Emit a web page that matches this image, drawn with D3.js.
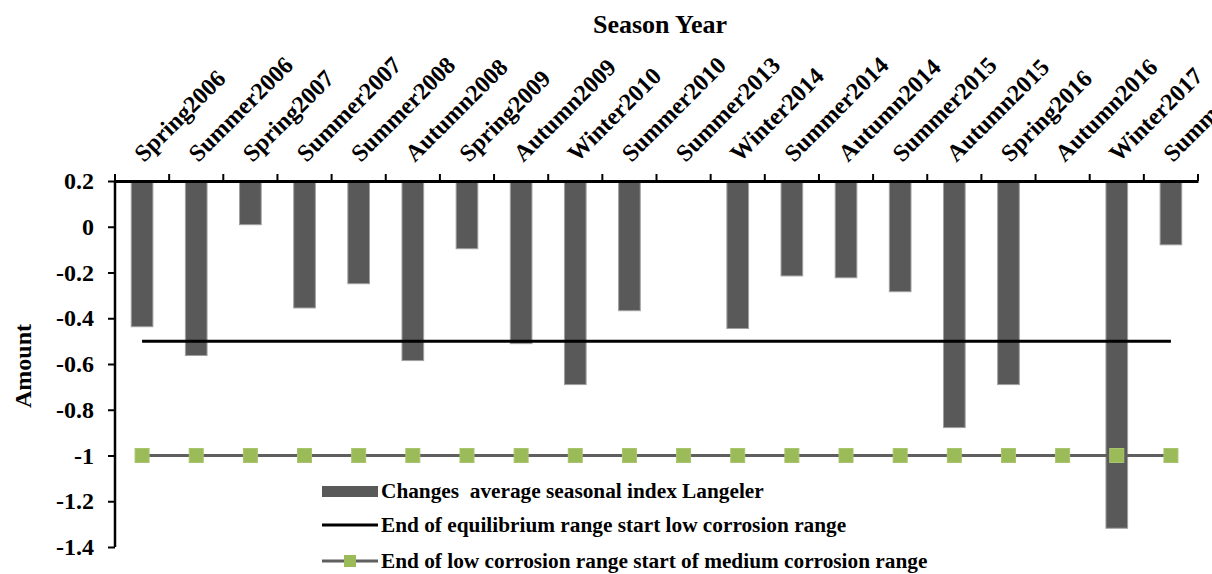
<!DOCTYPE html>
<html>
<head>
<meta charset="utf-8">
<script src="https://cdn.jsdelivr.net/npm/d3@7"></script>
<style>
  html, body { margin: 0; padding: 0; background: #fff; }
  svg { display: block; }
  text { font-family: "Liberation Serif", "Times New Roman", serif; font-weight: bold; fill: #000; }
</style>
</head>
<body>
<svg id="chart" width="1212" height="574"></svg>
<script>
const categories = ["Spring2006","Summer2006","Spring2007","Summer2007","Summer2008","Autumn2008","Spring2009","Autumn2009","Winter2010","Summer2010","Summer2013","Winter2014","Summer2014","Autumn2014","Summer2015","Autumn2015","Spring2016","Autumn2016","Winter2017","Summer2017"];
const langelerValues = [-0.437,-0.563,0.009,-0.355,-0.249,-0.585,-0.096,-0.511,-0.690,-0.367,null,-0.445,-0.215,-0.223,-0.284,-0.878,-0.690,null,-1.318,-0.079];
const equilibriumValues = categories.map(() => -0.5);
const mediumValues = categories.map(() => -1);
const yTicks = [0.2,0,-0.2,-0.4,-0.6,-0.8,-1,-1.2,-1.4];
const seriesNames = ["Changes  average seasonal index Langeler","End of equilibrium range start low corrosion range","End of low corrosion range start of medium corrosion range"];

(function () {
const svg = d3.select("#chart");
const pL = 115, pR = 1198, pT = 181, pB = 547;

const x = d3.scaleBand().domain(categories).range([pL, pR]).paddingInner(0).paddingOuter(0);
const y = d3.scaleLinear().domain([0.2, -1.4]).range([pT, pB]);
const bw = x.bandwidth() * 0.4;
const cx = c => x(c) + x.bandwidth() / 2;

// bars (drawn from the axis at 0.2 down to value)
svg.append("g").selectAll("rect")
  .data(categories.map((c, i) => ({c, v: langelerValues[i]})).filter(d => d.v !== null))
  .join("rect")
  .attr("x", d => cx(d.c) - bw / 2)
  .attr("y", y(0.2))
  .attr("width", bw)
  .attr("height", d => y(d.v) - y(0.2))
  .attr("fill", "#595959")
  .attr("stroke", "#a0a0a0")
  .attr("stroke-width", 1);

// black line at -0.5
const line = d3.line().x(d => cx(d.c)).y(d => y(d.v));
svg.append("path")
  .datum(categories.map((c, i) => ({c, v: equilibriumValues[i]})))
  .attr("d", line).attr("fill", "none").attr("stroke", "#000").attr("stroke-width", 3);

// gray line with green markers at -1
const medData = categories.map((c, i) => ({c, v: mediumValues[i]}));
svg.append("path").datum(medData)
  .attr("d", line).attr("fill", "none").attr("stroke", "#5f5f5f").attr("stroke-width", 3);
svg.append("g").selectAll("rect").data(medData).join("rect")
  .attr("x", d => cx(d.c) - 7).attr("y", d => y(d.v) - 7)
  .attr("width", 14).attr("height", 14)
  .attr("fill", "#9bbb59").attr("stroke", "#a9c46e").attr("stroke-width", 1);

// y axis
const yAxis = svg.append("g").attr("transform", `translate(${pL},0)`)
  .call(d3.axisLeft(y).tickValues(yTicks).tickSize(7).tickPadding(14).tickFormat(d => String(+d.toFixed(1))));
yAxis.select(".domain").attr("stroke", "#000").attr("stroke-width", 2.5).attr("d", `M0,${pT}V${pB}`);
yAxis.selectAll(".tick line").attr("stroke", "#000").attr("stroke-width", 2);
yAxis.selectAll(".tick text").attr("font-size", 24).attr("font-family", "Liberation Serif").attr("font-weight", "bold").attr("fill", "#000");

// x axis at top
const xAxis = svg.append("g").attr("transform", `translate(0,${pT})`)
  .call(d3.axisTop(x).tickSize(0).tickFormat(""));
xAxis.select(".domain").attr("stroke", "#000").attr("stroke-width", 3);
xAxis.selectAll(".tick").remove();
const bounds = categories.map(c => x(c)).concat([pR]);
xAxis.selectAll("line.bt").data(bounds).join("line").attr("class", "bt")
  .attr("x1", d => d).attr("x2", d => d).attr("y1", 0).attr("y2", -7)
  .attr("stroke", "#000").attr("stroke-width", 2);

// category labels rotated
svg.append("g").selectAll("text").data(categories).join("text")
  .attr("transform", c => `translate(${cx(c) + 2},${pT - 18}) rotate(-45)`)
  .attr("font-size", 24)
  .attr("text-anchor", "start")
  .text(c => c);

// titles
svg.append("text").attr("x", 660).attr("y", 33).attr("text-anchor", "middle").attr("font-size", 26).text("Season Year");
svg.append("text").attr("transform", "translate(31,366) rotate(-90)").attr("text-anchor", "middle").attr("font-size", 24).text("Amount");

// legend
const lg = svg.append("g");
const lx = 322, lw = 56, tx = 381;
const ly = [491, 525, 561];
lg.append("rect").attr("x", lx).attr("y", ly[0] - 5).attr("width", lw).attr("height", 11).attr("fill", "#595959");
lg.append("line").attr("x1", lx).attr("x2", lx + lw).attr("y1", ly[1]).attr("y2", ly[1]).attr("stroke", "#000").attr("stroke-width", 3);
lg.append("line").attr("x1", lx).attr("x2", lx + lw).attr("y1", ly[2]).attr("y2", ly[2]).attr("stroke", "#5f5f5f").attr("stroke-width", 3);
lg.append("rect").attr("x", lx + lw / 2 - 6).attr("y", ly[2] - 6).attr("width", 12).attr("height", 12).attr("fill", "#9bbb59");
lg.selectAll("text.lt").data(seriesNames).join("text").attr("class", "lt")
  .attr("x", tx).attr("y", (d, i) => ly[i] + 7)
  .attr("font-size", 21.3)
  .style("white-space", "pre")
  .text(d => d);
})();
</script>
</body>
</html>
